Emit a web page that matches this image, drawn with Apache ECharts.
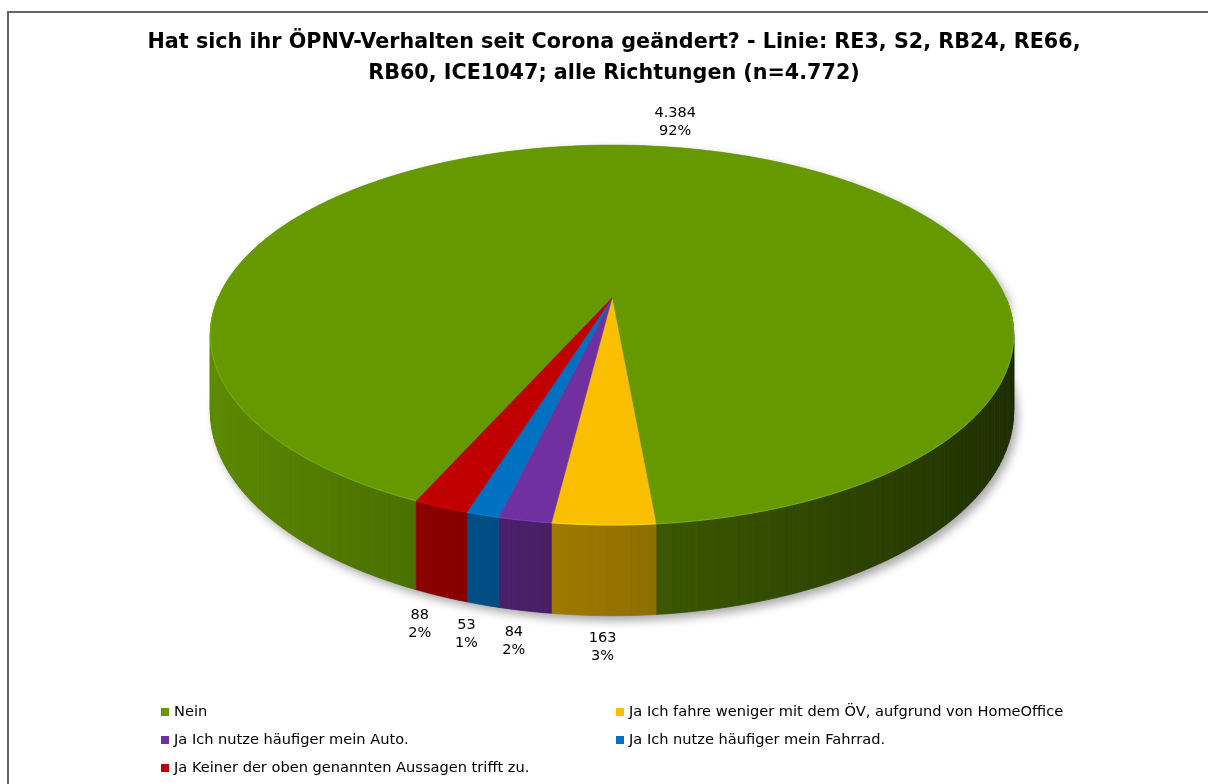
<!DOCTYPE html>
<html>
<head>
<meta charset="utf-8">
<script src="https://cdn.jsdelivr.net/npm/echarts@6/dist/echarts.min.js"></script>
<style>
    html, body {margin: 0; padding: 0; background: #fff; width: 1208px; height: 784px; overflow: hidden;}
    #frame {position: absolute; left: 7px; top: 11px; width: 1400px; height: 1000px; border: 2px solid #666;}
    #chart {position: absolute; left: 0; top: 0; width: 1208px; height: 784px;}
</style>
</head>
<body>
<div id="frame"></div>
<div id="chart"></div>
<script>
    const categories = [
        'Nein',
        'Ja Ich fahre weniger mit dem ÖV, aufgrund von HomeOffice',
        'Ja Ich nutze häufiger mein Auto.',
        'Ja Ich nutze häufiger mein Fahrrad.',
        'Ja Keiner der oben genannten Aussagen trifft zu.'
    ];
    const counts = [4384, 163, 84, 53, 88];

    const sliceColors = ['#669900', '#fabf00', '#7030a0', '#0070c0', '#c00000'];
    const total = counts.reduce((a, b) => a + b, 0);
    const firstSliceDeg = 114.1;
    // fake 3d pie: ellipse + perspective squeeze + side depth
    const geo = {cx: 612, cy: 298, a: 394, b: 182.8, persp: 0.1948, depth: 73};
    const font = '"DejaVu Sans", Verdana, sans-serif';

    const rad = d => d * Math.PI / 180;
    const proj = (r, deg, drop) => {
        const s = Math.sin(rad(deg)), co = Math.cos(rad(deg));
        const w = 1 - geo.persp * r * s;
        return [geo.cx + geo.a * r * co / w, geo.cy + (geo.b * r * s + drop * geo.depth) / w];
    };
    const shade = (hex, k) => {
        const n = parseInt(hex.slice(1), 16);
        const c = [n >> 16, (n >> 8) & 255, n & 255].map(v => Math.round(Math.min(255, v * k)));
        return 'rgb(' + c.join(',') + ')';
    };
    const fmt = v => String(v).replace(/\B(?=(\d{3})+(?!\d))/g, '.');

    function renderSlice(params, api) {
        const i = params.dataIndex;
        const val = api.value(0);
        const before = counts.slice(0, i).reduce((a, b) => a + b, 0);
        const a0 = firstSliceDeg + before / total * 360;
        const a1 = a0 + val / total * 360;
        const color = sliceColors[i];
        const children = [];

        if (i === 0) {
            // soft shadow under the whole cake
            const pts = [];
            for (let d = 0; d <= 180; d += 2) pts.push(proj(1, d, 1));
            for (let d = 180; d <= 360; d += 2) pts.push(proj(1, d, 0));
            children.push({
                type: 'polygon', z2: 0, shape: {points: pts},
                style: {fill: '#999', shadowBlur: 10, shadowOffsetX: 4, shadowOffsetY: 5, shadowColor: 'rgba(0,0,0,0.35)'}
            });
        }

        // visible side wall (front half only)
        for (let k = 0; k < 3; k++) {
            const lo = Math.max(a0, 360 * k), hi = Math.min(a1, 360 * k + 180);
            for (let d = lo; d < hi; d += 1) {
                const e = Math.min(d + 1, hi);
                const m = (d + e) / 2;
                const c = shade(color, 0.6 - 0.32 * Math.cos(rad(m)));
                children.push({
                    type: 'polygon', z2: 1,
                    shape: {points: [proj(1, d, 0), proj(1, e, 0), proj(1, e, 1), proj(1, d, 1)]},
                    style: {fill: c, stroke: c, lineWidth: 0.7}
                });
            }
            if (hi > lo) {
                const rim = [];
                for (let d = lo; d < hi; d += 1) rim.push(proj(1, d, 0));
                rim.push(proj(1, hi, 0));
                children.push({
                    type: 'polyline', z2: 3, shape: {points: rim},
                    style: {stroke: shade(color, 1.25), lineWidth: 1, fill: null, opacity: 0.7}
                });
            }
        }

        // top face
        const top = [[geo.cx, geo.cy]];
        for (let d = a0; d < a1; d += 0.5) top.push(proj(1, d, 0));
        top.push(proj(1, a1, 0));
        children.push({
            type: 'polygon', z2: 2, shape: {points: top},
            style: {fill: color, stroke: color, lineWidth: 0.5}
        });

        // data label
        const mid = (a0 + a1) / 2;
        const pos = Math.sin(rad(mid)) > 0 ? proj(1.1, mid, 1) : proj(1.2, mid, 0);
        children.push({
            type: 'text', z2: 4, x: pos[0], y: pos[1],
            style: {
                text: fmt(val) + '\n' + Math.round(val / total * 100) + '%',
                fill: '#000', fontSize: 14.5, fontFamily: font,
                align: 'center', verticalAlign: 'middle', lineHeight: 18
            }
        });

        return {type: 'group', children};
    }

    const chart = echarts.init(document.getElementById('chart'));
    chart.setOption({
        animation: false,
        title: {
            text: 'Hat sich ihr ÖPNV-Verhalten seit Corona geändert? - Linie: RE3, S2, RB24, RE66,\nRB60, ICE1047; alle Richtungen (n=4.772)',
            left: 614, top: 27, textAlign: 'center', padding: 0,
            textStyle: {fontFamily: font, fontWeight: 'bold', fontSize: 20.7, color: '#000', lineHeight: 31}
        },
        legend: {
            data: categories,
            selectedMode: false,
            icon: 'rect', itemWidth: 8, itemHeight: 8, itemGap: 12,
            left: 161, top: 704, width: 930, padding: 0,
            textStyle: {fontFamily: font, fontSize: 14.6, color: '#000', width: 430, lineHeight: 16}
        },
        series: [
            {
                type: 'custom',
                name: 'Corona',
                coordinateSystem: 'none',
                renderItem: renderSlice,
                data: counts.map((v, i) => ({name: categories[i], value: v}))
            },
            {
                // invisible pie, only feeds the legend
                type: 'pie',
                radius: [0, 0],
                silent: true,
                label: {show: false},
                labelLine: {show: false},
                data: counts.map((v, i) => ({name: categories[i], value: v, itemStyle: {color: sliceColors[i]}}))
            }
        ]
    });
</script>
</body>
</html>
